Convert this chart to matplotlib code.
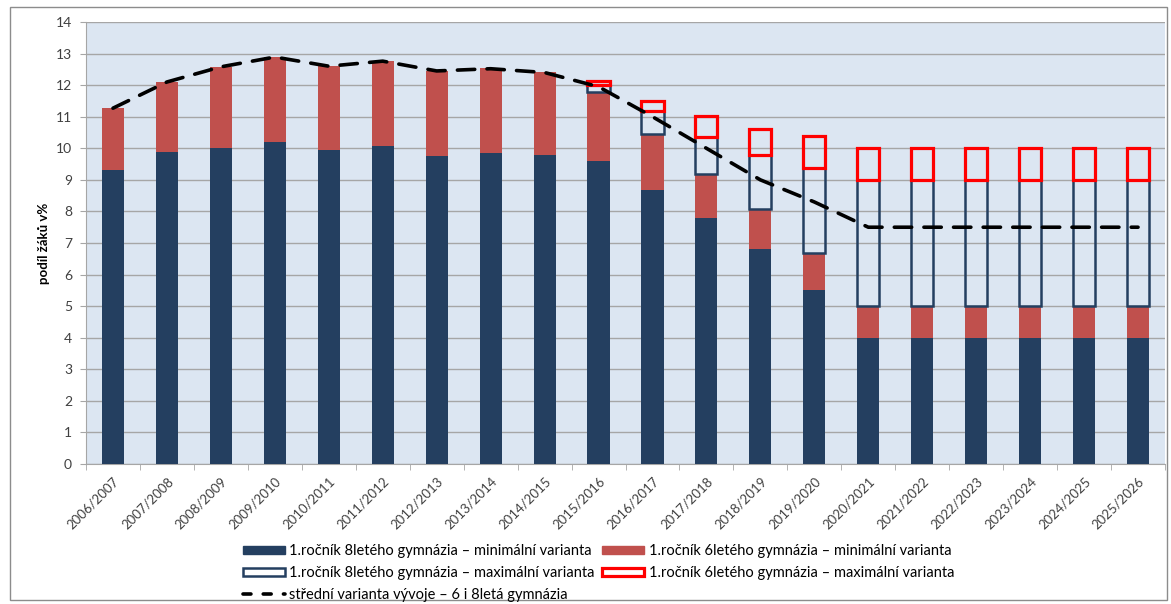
import matplotlib
matplotlib.use("Agg")
import matplotlib.pyplot as plt
import matplotlib.patches as mpatches
from matplotlib.lines import Line2D
import numpy as np

plt.rcParams['font.family'] = ['Lato', 'DejaVu Sans']

# Data
years = ['2006/2007', '2007/2008', '2008/2009', '2009/2010', '2010/2011',
         '2011/2012', '2012/2013', '2013/2014', '2014/2015', '2015/2016',
         '2016/2017', '2017/2018', '2018/2019', '2019/2020', '2020/2021',
         '2021/2022', '2022/2023', '2023/2024', '2024/2025', '2025/2026']
min8 = [9.3, 9.88, 10.0, 10.19, 9.96, 10.06, 9.75, 9.86, 9.8, 9.6,
        8.68, 7.8, 6.8, 5.5, 4, 4, 4, 4, 4, 4]
min6 = [1.97, 2.22, 2.58, 2.7, 2.64, 2.71, 2.71, 2.67, 2.61, 2.17,
        1.78, 1.38, 1.27, 1.17, 1, 1, 1, 1, 1, 1]
max8 = [0, 0, 0, 0, 0, 0, 0, 0, 0, 0.23,
        0.71, 1.18, 1.71, 2.71, 4, 4, 4, 4, 4, 4]
max6 = [0, 0, 0, 0, 0, 0, 0, 0, 0, 0.13,
        0.34, 0.65, 0.83, 1.01, 1, 1, 1, 1, 1, 1]
stredni = [11.27, 12.1, 12.58, 12.89, 12.6, 12.76, 12.45, 12.52, 12.4, 11.95,
           11.0, 10.0, 9.0, 8.3, 7.5, 7.5, 7.5, 7.5, 7.5, 7.5]

navy = '#243F60'
red = '#C0504D'
bright = '#FF0000'

fig = plt.figure(figsize=(11.71, 6.04), dpi=100)
ax = fig.add_axes([86 / 1171, 1 - 464 / 604, 1079 / 1171, 442 / 604])
ax.set_facecolor('#DCE6F2')

x = np.arange(len(years))
w = 0.41
b1 = np.array(min8)
b2 = b1 + np.array(min6)
b3 = b2 + np.array(max8)

ax.bar(x, min8, w, color=navy, zorder=3)
ax.bar(x, min6, w, bottom=b1, color=red, zorder=3)
m8 = np.array(max8) > 0
ax.bar(x[m8], np.array(max8)[m8], w, bottom=b2[m8], facecolor='none',
       edgecolor=navy, linewidth=1.8, zorder=4)
ax.bar(x[m8], np.array(max6)[m8], w, bottom=b3[m8], facecolor='none',
       edgecolor=bright, linewidth=2.3, zorder=5)
ax.plot(x, stredni, color='black', linewidth=2.6, dashes=(4.8, 3.4),
        dash_capstyle='round', zorder=6)

ax.set_xlim(-0.5, len(years) - 0.5)
ax.set_ylim(0, 14)
ax.set_yticks(range(0, 15))
ax.grid(axis='y', color='#A6A6A6', linewidth=1, zorder=1)
ax.set_axisbelow(True)
for s in ['top', 'right']:
    ax.spines[s].set_visible(False)
for s in ['left', 'bottom']:
    ax.spines[s].set_color('#A6A6A6')
ax.tick_params(axis='y', colors='#A6A6A6', labelcolor='#404040',
               labelsize=10, length=4, pad=6)
ax.set_xticks(x)
ax.set_xticklabels(years, rotation=45, ha='right', rotation_mode='anchor',
                   fontsize=9.5, color='#404040')
ax.tick_params(axis='x', length=0, pad=8)
ax.set_xticks(np.arange(-0.5, len(years)), minor=True)
ax.tick_params(axis='x', which='minor', length=4, color='#A6A6A6')
ax.set_ylabel('podíl žáků v%', fontsize=9.5, fontweight='bold', labelpad=4)

handles = [
    mpatches.Patch(facecolor=navy, edgecolor=navy,
                   label='1.ročník 8letého gymnázia – minimální varianta'),
    mpatches.Patch(facecolor='white', edgecolor=navy, linewidth=1.8,
                   label='1.ročník 8letého gymnázia – maximální varianta'),
    Line2D([0], [0], color='black', linewidth=2.6, dashes=(2.2, 3.4),
           dash_capstyle='round',
           label='střední varianta vývoje – 6 i 8letá gymnázia'),
    mpatches.Patch(facecolor=red, edgecolor=red,
                   label='1.ročník 6letého gymnázia – minimální varianta'),
    mpatches.Patch(facecolor='white', edgecolor=bright, linewidth=2.3,
                   label='1.ročník 6letého gymnázia – maximální varianta'),
]
fig.legend(handles=handles, ncol=2, loc='upper center',
           bbox_to_anchor=(0.511, 1 - 531 / 604), frameon=False,
           fontsize=10.5, handlelength=2.9, handleheight=0.55,
           handletextpad=0.3, columnspacing=0.5, labelspacing=0.55)

fig.patches.append(mpatches.Rectangle((10 / 1171, 4 / 604), 1157 / 1171, 593 / 604,
                                      transform=fig.transFigure, fill=False,
                                      edgecolor='#8C8C8C', linewidth=1))

fig.savefig('out.png', dpi=100)
